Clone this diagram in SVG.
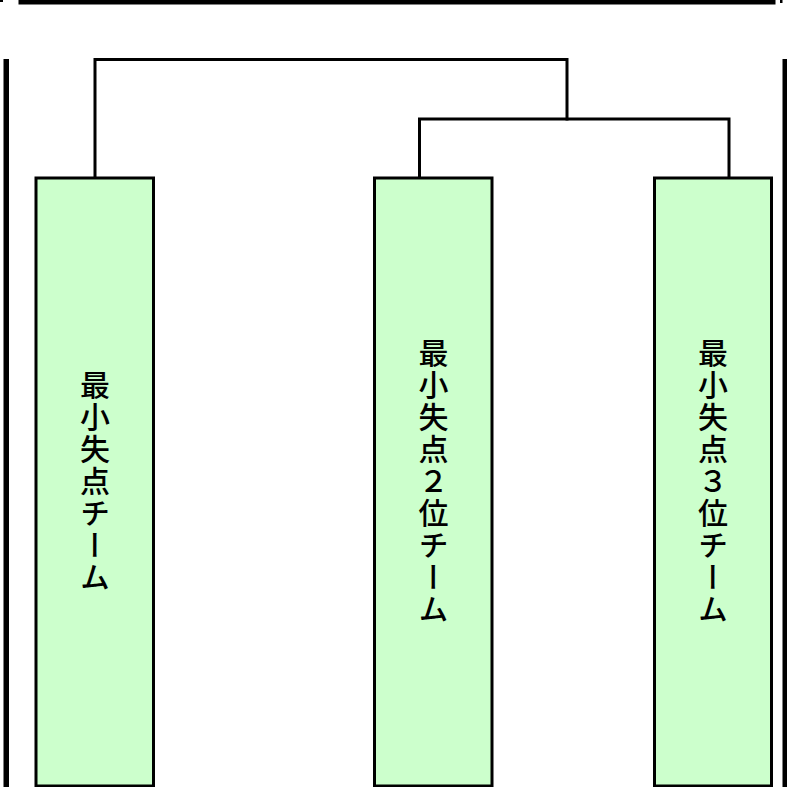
<svg xmlns="http://www.w3.org/2000/svg" width="787" height="787" viewBox="0 0 787 787">
<style>
.box{fill:#CCFFCC;stroke:#000;stroke-width:3}
.conn{fill:none;stroke:#000;stroke-width:3;stroke-linecap:square}
.frame{fill:#000}
.lbl{font-family:"Noto Sans CJK JP","Noto Sans",sans-serif;font-size:30px;font-weight:500;letter-spacing:2px;writing-mode:vertical-rl;text-anchor:middle;fill:#000}
</style>
<rect width="787" height="787" fill="#fff"/>
<g id="frame">
<rect class="frame" x="18.5" y="0" width="757" height="4.5"/>
<rect class="frame" x="0" y="0" width="3" height="2"/>
<rect class="frame" x="780" y="0" width="2.5" height="3"/>
<rect class="frame" x="3.5" y="59" width="5.5" height="728"/>
<rect class="frame" x="782.5" y="59" width="5" height="728"/>
</g>
<g id="connectors">
<path class="conn" d="M95,178 V59.5 H567 V119"/>
<path class="conn" d="M419.5,178 V119 H729 V178"/>
</g>
<g id="node1">
<rect class="box" x="36" y="178" width="117.5" height="608"/>
<text class="lbl" x="95" y="482">最小失点チーム</text>
</g>
<g id="node2">
<rect class="box" x="374.5" y="178" width="117.5" height="608"/>
<text class="lbl" x="433.5" y="482">最小失点２位チーム</text>
</g>
<g id="node3">
<rect class="box" x="654.5" y="178" width="117" height="608"/>
<text class="lbl" x="713" y="482">最小失点３位チーム</text>
</g>
</svg>
